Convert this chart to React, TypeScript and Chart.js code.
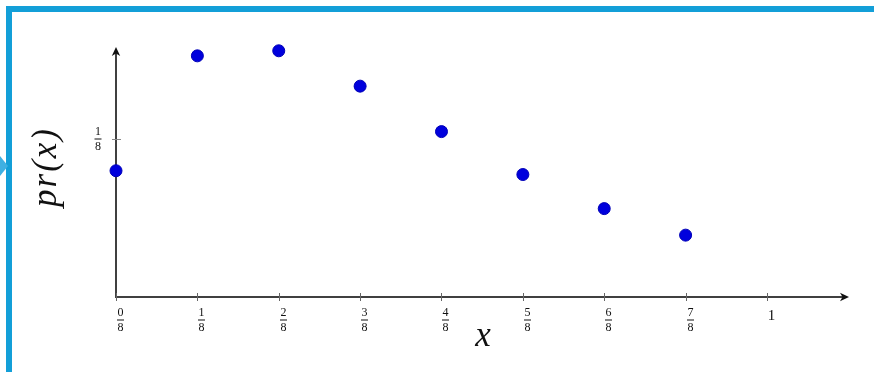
import React, { useEffect, useRef } from "react";
import { Chart, registerables } from "chart.js";

Chart.register(...registerables);

// Outcome values and their probabilities
const outcomes = [0, 1 / 8, 2 / 8, 3 / 8, 4 / 8, 5 / 8, 6 / 8, 7 / 8];
const probabilities = [0.1, 0.191, 0.195, 0.167, 0.131, 0.097, 0.07, 0.049];

// Axis ticks and their labels
const xTicks = [0, 1 / 8, 2 / 8, 3 / 8, 4 / 8, 5 / 8, 6 / 8, 7 / 8, 1];
const xTickLabels = ["0/8", "1/8", "2/8", "3/8", "4/8", "5/8", "6/8", "7/8", "1"];
const yTicks = [1 / 8];
const yTickLabels = ["1/8"];

const xTitle = "x";
const yTitle = "pr(x)";

const X_MAX = 1.126;
const Y_MAX = 0.198;

const FRAME_BLUE = "#139fd8";
const AXIS_COLOR = "#404040";
const SERIF = '"Liberation Serif", "DejaVu Serif", serif';

function drawFraction(ctx: CanvasRenderingContext2D, label: string, cx: number, barY: number, size: number) {
  ctx.fillStyle = "#111";
  ctx.textAlign = "center";
  ctx.textBaseline = "middle";
  ctx.font = `${size}px ${SERIF}`;
  const parts = label.split("/");
  if (parts.length === 2) {
    ctx.fillText(parts[0], cx, barY - 7);
    ctx.fillText(parts[1], cx, barY + 8);
    const w = Math.max(ctx.measureText(parts[0]).width, ctx.measureText(parts[1]).width) + 1;
    ctx.fillRect(cx - w / 2, barY - 0.5, w, 1);
  } else {
    ctx.font = `${size + 3}px ${SERIF}`;
    ctx.fillText(label, cx, barY - 4);
  }
}

function arrowHead(ctx: CanvasRenderingContext2D, x: number, y: number, angle: number) {
  ctx.save();
  ctx.translate(x, y);
  ctx.rotate(angle);
  ctx.beginPath();
  ctx.moveTo(0, 0);
  ctx.lineTo(-9, -4.2);
  ctx.lineTo(-6.5, 0);
  ctx.lineTo(-9, 4.2);
  ctx.closePath();
  ctx.fillStyle = "#111";
  ctx.fill();
  ctx.restore();
}

const framePlugin = {
  id: "frame",
  beforeDraw(chart: any) {
    const ctx: CanvasRenderingContext2D = chart.ctx;
    const { width, height } = chart;
    ctx.save();
    ctx.fillStyle = "#ffffff";
    ctx.fillRect(0, 0, width, height);
    // slide frame along the top and left edges
    ctx.fillStyle = FRAME_BLUE;
    ctx.fillRect(6, 6, width - 6, 6);
    ctx.fillRect(6, 6, 6, height - 6);
    // small pointer on the left edge
    ctx.fillStyle = "#3fb0e2";
    ctx.beginPath();
    ctx.moveTo(0, 156);
    ctx.lineTo(8, 166);
    ctx.lineTo(0, 176);
    ctx.closePath();
    ctx.fill();
    ctx.restore();
  },
};

const axesPlugin = {
  id: "arrowAxes",
  beforeDatasetsDraw(chart: any) {
    const ctx: CanvasRenderingContext2D = chart.ctx;
    const xs = chart.scales.x;
    const ys = chart.scales.y;
    const x0 = xs.getPixelForValue(0);
    const y0 = ys.getPixelForValue(0);
    const xEnd = xs.getPixelForValue(X_MAX);
    const yEnd = ys.getPixelForValue(Y_MAX);
    ctx.save();

    // axis lines
    ctx.strokeStyle = AXIS_COLOR;
    ctx.lineWidth = 2;
    ctx.beginPath();
    ctx.moveTo(x0 - 1, y0);
    ctx.lineTo(xEnd - 4, y0);
    ctx.moveTo(x0, y0 + 1);
    ctx.lineTo(x0, yEnd + 4);
    ctx.stroke();
    arrowHead(ctx, xEnd, y0, 0);
    arrowHead(ctx, x0, yEnd, -Math.PI / 2);

    // x ticks and fraction labels
    ctx.strokeStyle = "#666";
    ctx.lineWidth = 1;
    xTicks.forEach((v, i) => {
      const px = Math.round(xs.getPixelForValue(v)) + 0.5;
      ctx.beginPath();
      ctx.moveTo(px, y0 - 4);
      ctx.lineTo(px, y0 + 4);
      ctx.stroke();
      drawFraction(ctx, xTickLabels[i], px + 4, y0 + 23, 12);
    });

    // y ticks and fraction labels
    yTicks.forEach((v, i) => {
      const py = Math.round(ys.getPixelForValue(v)) + 0.5;
      ctx.strokeStyle = "#888";
      ctx.beginPath();
      ctx.moveTo(x0 - 4, py);
      ctx.lineTo(x0 + 5, py);
      ctx.stroke();
      drawFraction(ctx, yTickLabels[i], x0 - 18, py - 0.5, 12);
    });

    // axis titles
    ctx.fillStyle = "#111";
    ctx.textAlign = "center";
    ctx.textBaseline = "middle";
    ctx.font = `italic 35px ${SERIF}`;
    ctx.fillText(xTitle, 483, 337);

    ctx.translate(47, 167);
    ctx.rotate(-Math.PI / 2);
    (ctx as any).letterSpacing = "2px";
    ctx.fillText(yTitle, 0, 0);
    ctx.restore();
  },
};

export default function App() {
  const canvasRef = useRef<HTMLCanvasElement | null>(null);

  useEffect(() => {
    const canvas = canvasRef.current;
    if (!canvas) return;
    const chart = new Chart(canvas, {
      type: "scatter",
      data: {
        datasets: [
          {
            label: yTitle,
            data: outcomes.map((x, i) => ({ x, y: probabilities[i] })),
            pointRadius: 6,
            pointBackgroundColor: "#0000dd",
            pointBorderColor: "#0000b8",
            pointBorderWidth: 1,
            clip: false,
          } as any,
        ],
      },
      options: {
        responsive: false,
        animation: false,
        devicePixelRatio: 1,
        layout: { padding: { left: 116, right: 25, top: 47, bottom: 75 } },
        plugins: { legend: { display: false }, tooltip: { enabled: false } },
        scales: {
          x: { type: "linear", min: 0, max: X_MAX, display: false },
          y: { type: "linear", min: 0, max: Y_MAX, display: false },
        },
      },
      plugins: [framePlugin, axesPlugin],
    });
    return () => chart.destroy();
  }, []);

  return (
    <div style={{ position: "fixed", left: 0, top: 0, width: 874, height: 372, background: "#fff" }}>
      <canvas ref={canvasRef} width={874} height={372} style={{ display: "block" }} />
    </div>
  );
}
